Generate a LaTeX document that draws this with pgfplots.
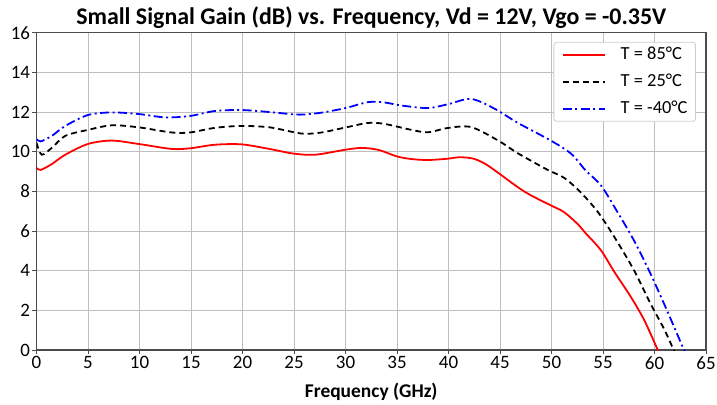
\documentclass[border=0pt]{standalone}
\usepackage{pgfplots}
\pgfplotsset{compat=1.18}
\usepackage{fontspec}
\setmainfont{Carlito}
\begin{document}
\begin{tikzpicture}
\begin{axis}[
  scale only axis,
  width=669.5bp, height=317.3bp,
  xmin=0, xmax=65, ymin=0, ymax=16,
  xtick={0,5,...,65}, ytick={0,2,...,16},
  grid=major,
  grid style={draw=black!25, line width=0.8pt},
  axis line style={draw=black!70, line width=1.2pt},
  tick style={draw=black!70, line width=0.8pt},
  tick align=outside,
  major tick length=4bp,
  xtick pos=bottom, ytick pos=left,
  /pgf/number format/assume math mode=true,
  tick label style={font=\fontsize{19}{21}\selectfont},
  xticklabel style={yshift=1bp},
  yticklabel style={xshift=1bp},
  xlabel={\textbf{Frequency (GHz)}},
  xlabel style={font=\fontsize{19.5}{21}\selectfont, yshift=-7bp},
  title={\textbf{Small Signal Gain (dB) vs. Frequency, Vd = 12V, Vgo = -0.35V}},
  title style={font=\fontsize{24}{26}\selectfont, yshift=-5bp},
  legend style={draw=black!20, line width=0.8pt, rounded corners=3pt, inner xsep=8bp, inner ysep=4bp, row sep=10bp,
    nodes={inner sep=0pt, text height=13bp, text depth=4bp, font=\fontsize{18.5}{20}\selectfont},
    at={(0.985,0.971)}, anchor=north east},
  legend cell align=left,
  legend image code/.code={\draw[#1, line width=1.8pt] (0bp,0bp) -- (42bp,0bp); \path (57bp,0bp);},
]
\addplot[red, line width=1.8pt, smooth] coordinates {
(0,9.18)(0.4,9.08)(1.5,9.38)(2.8,9.85)(5,10.39)(7.3,10.56)(9.9,10.39)(13.1,10.14)(14.9,10.17)(17.3,10.35)(19.9,10.37)(22.6,10.14)(25,9.9)(27.1,9.85)(30,10.1)(31.6,10.19)(33.2,10.09)(35,9.76)(36.4,9.63)(38,9.58)(40,9.65)(41,9.72)(42.4,9.65)(43.8,9.31)(46.7,8.22)(48,7.8)(49.9,7.3)(51.2,6.96)(52.5,6.37)(53.3,5.9)(54.8,5.03)(56.1,3.94)(57.7,2.68)(59,1.51)(60.25,0.08)(60.35,0)
};
\addlegendentry{T = 85°C}
\addplot[black, line width=1.8pt, dash pattern=on 6pt off 4pt, smooth] coordinates {
(0,10.45)(0.5,9.85)(1.5,10.2)(2.8,10.8)(5,11.1)(7.3,11.33)(9.9,11.23)(13.1,10.97)(14.9,10.97)(17.3,11.2)(19.9,11.3)(22.6,11.23)(25,10.98)(26.1,10.9)(27.7,10.97)(30,11.22)(32.2,11.45)(33.8,11.4)(36.4,11.1)(38,10.98)(40,11.2)(42.2,11.24)(44.8,10.57)(46.7,9.93)(49.6,9.09)(51.2,8.69)(52.8,7.97)(54.5,6.96)(56.1,5.7)(58,4.03)(59.6,2.35)(60.9,1.09)(61.8,0.08)(61.9,0)
};
\addlegendentry{T = 25°C}
\addplot[blue, line width=1.8pt, dash pattern=on 9pt off 3.5pt on 2pt off 3.5pt, smooth] coordinates {
(0,10.64)(0.4,10.52)(1.5,10.8)(2.8,11.3)(5,11.85)(7.3,11.98)(9.9,11.9)(12.5,11.73)(14.9,11.8)(17.3,12.05)(19.9,12.1)(22.6,12.0)(25,11.88)(26.1,11.88)(27.7,11.97)(30,12.2)(32.2,12.5)(33.8,12.48)(35.4,12.33)(38,12.2)(40,12.4)(42.2,12.66)(44.5,12.16)(46.7,11.46)(49.9,10.57)(51.9,9.9)(53.3,9.06)(54.8,8.3)(56.4,6.96)(58,5.53)(59.6,3.86)(61.2,2.01)(62.8,0.08)(62.9,0)
};
\addlegendentry{T = -40°C}
\end{axis}
\pgfresetboundingbox
\path[use as bounding box] ([xshift=-36.5bp,yshift=-55bp]current axis.south west) rectangle ([xshift=11bp,yshift=32.7bp]current axis.north east);
\end{tikzpicture}
\end{document}
